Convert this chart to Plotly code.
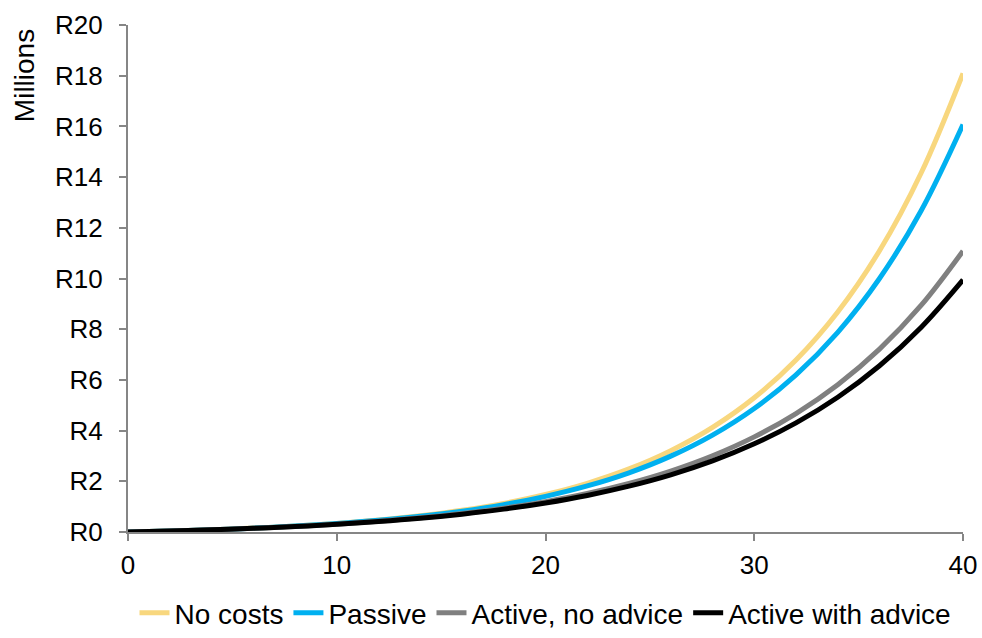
import plotly.graph_objects as go

years = [0, 2, 4, 6, 8, 10, 12, 14, 16, 18, 20, 22, 24, 26, 28, 30, 32, 34, 36, 38, 40]

no_costs = [0.0, 0.040, 0.090, 0.154, 0.235, 0.339, 0.472, 0.640, 0.855, 1.129, 1.478,
            1.922, 2.487, 3.208, 4.125, 5.294, 6.783, 8.679, 11.095, 14.173, 18.093]
passive = [0.0, 0.039, 0.089, 0.152, 0.232, 0.332, 0.459, 0.620, 0.823, 1.080, 1.405,
           1.816, 2.335, 2.992, 3.822, 4.872, 6.200, 7.878, 10.000, 12.684, 16.077]
active_no_advice = [0.0, 0.039, 0.087, 0.146, 0.219, 0.310, 0.421, 0.559, 0.729, 0.939, 1.199,
                    1.519, 1.915, 2.404, 3.007, 3.752, 4.673, 5.809, 7.213, 8.946, 11.086]
active_with_advice = [0.0, 0.039, 0.086, 0.144, 0.216, 0.303, 0.411, 0.542, 0.704, 0.902, 1.145,
                      1.442, 1.808, 2.255, 2.804, 3.478, 4.303, 5.316, 6.557, 8.080, 9.947]

series_names = ["No costs", "Passive", "Active, no advice", "Active with advice"]
series_values = [no_costs, passive, active_no_advice, active_with_advice]
colors = ["#F8D77E", "#00B0F0", "#808080", "#000000"]

y_tickvals = [0, 2, 4, 6, 8, 10, 12, 14, 16, 18, 20]
y_ticktext = ["R" + str(v) for v in y_tickvals]
x_tickvals = [0, 10, 20, 30, 40]

fig = go.Figure()
for name, vals, col in zip(series_names, series_values, colors):
    fig.add_trace(go.Scatter(
        x=years, y=vals, name=name, mode="lines",
        line=dict(color=col, width=5, shape="spline"),
    ))

axis_col = "#868686"
fig.update_layout(
    width=982, height=638,
    margin=dict(l=128, r=19, t=25, b=106, autoexpand=False),
    paper_bgcolor="white", plot_bgcolor="white",
    font=dict(family="Liberation Sans, Arial, sans-serif", size=26, color="black"),
    showlegend=True,
    legend=dict(orientation="h", x=0.5, xanchor="center", y=-0.209, yanchor="bottom",
                font=dict(size=28), itemwidth=30, tracegroupgap=0),
    xaxis=dict(range=[0, 40], tickvals=x_tickvals, showgrid=False, zeroline=False,
               showline=True, linecolor=axis_col, linewidth=2,
               ticks="outside", ticklen=7, tickcolor=axis_col, tickwidth=2,
               ticklabelstandoff=2),
    yaxis=dict(range=[0, 20], tickvals=y_tickvals, ticktext=y_ticktext, showgrid=False,
               zeroline=False, showline=True, linecolor=axis_col, linewidth=2,
               ticks="outside", ticklen=7, tickcolor=axis_col, tickwidth=2,
               ticklabelstandoff=11),
    annotations=[dict(text="Millions", textangle=-90, xref="paper", yref="paper",
                      x=-0.124, y=0.9, xanchor="center", yanchor="middle",
                      showarrow=False, font=dict(size=28, color="black"))],
)

fig.write_html("out.html", config={"displayModeBar": False},
               post_script="document.body.style.margin='0';")
